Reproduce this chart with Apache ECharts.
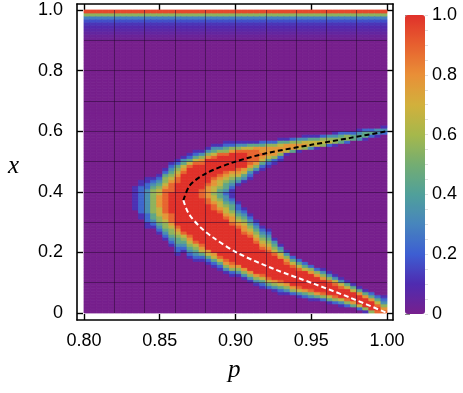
<!DOCTYPE html>
<html>
<head>
<meta charset="utf-8">
<script src="https://cdn.jsdelivr.net/npm/echarts@6/dist/echarts.min.js"></script>
<style>
  html, body { margin: 0; padding: 0; background: #fff; }
  #chart { width: 463px; height: 393px; }
</style>
</head>
<body>
<div id="chart"></div>
<script>
// tick labels
const pTicks = [0.80, 0.85, 0.90, 0.95, 1.00];
const xTicks = [0, 0.2, 0.4, 0.6, 0.8, 1.0];
const colorTicks = [0, 0.2, 0.4, 0.6, 0.8, 1.0];

// heatmap cells: 50 columns in p (0.800 - 1.000, step 0.004), 100 rows in x (step 0.01)
const pStart = 0.8, pStep = 0.004, nCols = 50;
const xStep = 0.01, nRows = 100;

// strip along x = 1, rows 90..99
const topBand = [0.02, 0.03, 0.05, 0.07, 0.09, 0.12, 0.17, 0.28, 0.55, 0.95];

// ridge: [column, first row, levels 0-9 going up in x]
const ridge = [
  [8, 34, "11111111"],
  [9, 31, "1122222222211"],
  [10, 28, "11222333333332211"],
  [11, 28, "12344555555554321"],
  [12, 26, "12345566677776654321"],
  [13, 24, "123455677888888887655421"],
  [14, 22, "1234556788899999998887654321"],
  [15, 19, "1223445678" + "99999999999999" + "88765421"],
  [16, 20, "1234568" + "9999999999999999999" + "876431"],
  [17, 18, "12345678" + "9999999999999999999999" + "86421"],
  [18, 17, "1234568" + "9999999999999999999999999" + "86421"],
  [19, 17, "124678" + "999999999999999" + "888" + "99999999" + "87531"],
  [20, 16, "12467" + "999999999999999" + "8877778" + "99999999" + "7531"],
  [21, 15, "12467" + "99999999999999" + "88766566778" + "999999" + "86431"],
  [22, 14, "12468" + "99999999999999" + "8766544456678" + "999999" + "8531"],
  [23, 13, "13578" + "9999999999999" + "8766543323445678" + "99999" + "85421"],
  [24, 12, "12578" + "999999999999" + "877654432111234567" + "999999" + "7521"],
  [25, 12, "13579" + "9999999999" + "9876543221"], [25, 42, "134678" + "99999" + "8531"],
  [26, 11, "13579" + "9999999999" + "877654321"], [26, 43, "13467999998631"],
  [27, 10, "13579" + "999999999" + "987654321"], [27, 44, "1235788888641"],
  [28, 9, "13579" + "99999999" + "987654321"], [28, 46, "13578888741"],
  [29, 8, "12468" + "9999999" + "987654321"], [29, 47, "1246787742"],
  [30, 8, "24689" + "999999" + "987654321"], [30, 48, "124677752"],
  [31, 7, "13579" + "999999" + "9865431"], [31, 49, "12577752"],
  [32, 6, "124689" + "99999" + "976431"], [32, 50, "12577641"],
  [33, 6, "13579" + "99999" + "87531"], [33, 52, "167741"],
  [34, 6, "2579" + "99999" + "8642"], [34, 53, "47752"],
  [35, 5, "13689" + "9999" + "8642"], [35, 53, "16753"],
  [36, 5, "2479" + "9999" + "9642"], [36, 54, "57631"],
  [37, 4, "13589" + "999" + "9752"], [37, 54, "36641"],
  [38, 4, "1479" + "999" + "9752"], [38, 54, "16641"],
  [39, 4, "2589" + "99" + "97531"], [39, 55, "5652"],
  [40, 3, "1469" + "999" + "8531"], [40, 55, "2653"],
  [41, 3, "2589" + "99" + "8631"], [41, 55, "15531"],
  [42, 2, "1369" + "99" + "8631"], [42, 56, "4542"],
  [43, 2, "2589" + "9" + "9641"], [43, 56, "2552"],
  [44, 2, "479" + "99" + "641"], [44, 57, "442"],
  [45, 1, "269" + "99" + "741"], [45, 57, "3431"],
  [46, 0, "15" + "999" + "741"], [46, 57, "1442"],
  [47, 0, "5999742"], [47, 58, "242"],
  [48, 0, "898642"], [48, 58, "133"],
  [49, 0, "875321"], [49, 59, "231"]
];

// dashed curves, [p, x]
const upperBranch = [[0.8656, 0.372], [0.870, 0.422], [0.881, 0.462], [0.899, 0.498], [0.921, 0.528], [0.950, 0.555], [0.976, 0.578], [1.0, 0.600]];
const lowerBranch = [[0.8656, 0.372], [0.869, 0.329], [0.877, 0.282], [0.885, 0.25], [0.901, 0.199], [0.925, 0.146], [0.952, 0.096], [0.976, 0.050], [1.0, 0.0]];

const cmap = ['#77208d', '#4f2bb0', '#3d5ed2', '#4785bd', '#50a09a', '#74ad72', '#a6b84b', '#d2b03c', '#e98f37', '#e7602f', '#e0312a'];

// build cells: [p of left edge, x of bottom edge, value]
const vals = [];
for (let c = 0; c < nCols; c++) {
  vals.push([]);
  for (let r = 0; r < nRows; r++) vals[c].push(r >= 90 ? topBand[r - 90] : 0);
}
ridge.forEach(([c, r0, s]) => {
  for (let i = 0; i < s.length; i++) vals[c][r0 + i] = +s[i] / 9;
});
const cells = [];
for (let c = 0; c < nCols; c++)
  for (let r = 0; r < nRows; r++) cells.push([pStart + pStep * c, xStep * r, vals[c][r]]);

// frame: heatmap spans 84..387 px (p) and 313..10 px (x); frame is 77..393, 4..320
const pxPerP = 303 / 0.2, pxPerX = 303;
const pMin = 0.8 - 7 / pxPerP, pMax = 1.0 + 6 / pxPerP;
const xMin = -7 / pxPerX, xMax = 1.0 + 6 / pxPerX;

const fmtX = v => (Math.abs(v) < 1e-9 ? '0' : v.toFixed(1));
const font = 'Liberation Sans';
const frameLine = { show: true, onZero: false, lineStyle: { color: '#000', width: 1.6 } };
const tickIn = { show: true, inside: true, length: 6, lineStyle: { color: '#000', width: 1.4 } };
const gridLine = { color: 'rgba(35,5,45,0.5)', width: 1 };

function renderCell(params, api) {
  const a = api.coord([api.value(0), api.value(1) + xStep]);
  const b = api.coord([api.value(0) + pStep, api.value(1)]);
  const color = api.visual('color');
  return {
    type: 'rect',
    shape: { x: a[0], y: a[1], width: b[0] - a[0], height: b[1] - a[1] },
    style: { fill: color, stroke: color, lineWidth: 0.8 }
  };
}

const chart = echarts.init(document.getElementById('chart'));
chart.setOption({
  animation: false,
  backgroundColor: '#fff',
  grid: [
    { left: 77, top: 4, width: 316, height: 316, outerBoundsMode: 'none' },
    { left: 84, top: 10, width: 303, height: 303, outerBoundsMode: 'none' },
    { left: 405, top: 15, width: 20, height: 299, outerBoundsMode: 'none' }
  ],
  xAxis: [
    { gridIndex: 0, type: 'value', min: pMin, max: pMax, position: 'bottom',
      axisLine: frameLine,
      axisTick: Object.assign({ customValues: pTicks }, tickIn),
      axisLabel: { customValues: pTicks, formatter: v => v.toFixed(2), margin: 12,
        fontFamily: font, fontSize: 18, color: '#000' },
      splitLine: { show: false } },
    { gridIndex: 0, type: 'value', min: pMin, max: pMax, position: 'top',
      axisLine: frameLine,
      axisTick: Object.assign({ customValues: pTicks }, tickIn),
      axisLabel: { show: false }, splitLine: { show: false } },
    { gridIndex: 1, type: 'value', min: 0.8, max: 1.0, interval: 0.02, z: 5,
      axisLine: { show: false }, axisTick: { show: false }, axisLabel: { show: false },
      splitLine: { show: true, showMinLine: false, showMaxLine: false, lineStyle: gridLine } },
    { gridIndex: 2, type: 'value', show: false, min: 0, max: 1 }
  ],
  yAxis: [
    { gridIndex: 0, type: 'value', min: xMin, max: xMax, position: 'left',
      axisLine: frameLine,
      axisTick: Object.assign({ customValues: xTicks }, tickIn),
      axisLabel: { customValues: xTicks, formatter: fmtX, margin: 14,
        fontFamily: font, fontSize: 18, color: '#000' },
      splitLine: { show: false } },
    { gridIndex: 0, type: 'value', min: xMin, max: xMax, position: 'right',
      axisLine: frameLine,
      axisTick: Object.assign({ customValues: xTicks }, tickIn),
      axisLabel: { show: false }, splitLine: { show: false } },
    { gridIndex: 1, type: 'value', min: 0, max: 1, interval: 0.1, z: 5,
      axisLine: { show: false }, axisTick: { show: false }, axisLabel: { show: false },
      splitLine: { show: true, showMinLine: false, showMaxLine: false, lineStyle: gridLine } },
    { gridIndex: 2, type: 'value', min: 0, max: 1, interval: 0.2, position: 'right',
      axisLine: { show: false },
      axisTick: { show: true, length: 5, lineStyle: { color: '#888', width: 1 } },
      axisLabel: { customValues: colorTicks, formatter: fmtX, margin: 7,
        fontFamily: font, fontSize: 18, color: '#000' },
      splitLine: { show: false } },
    // faint minor ticks beside the colour bar
    { gridIndex: 2, type: 'value', min: 0, max: 1, interval: 0.05, position: 'right',
      axisLine: { show: false },
      axisTick: { show: true, length: 3, lineStyle: { color: '#ddd', width: 1 } },
      axisLabel: { show: false }, splitLine: { show: false } }
  ],
  visualMap: {
    type: 'continuous', min: 0, max: 1, seriesIndex: 0, dimension: 2,
    calculable: false, orient: 'vertical', left: 405, top: 15, padding: 0,
    itemWidth: 20, itemHeight: 299,
    inRange: { color: cmap }
  },
  graphic: [
    { type: 'text', left: 8, top: 154, style: { text: 'x', font: 'italic 25px "Liberation Serif"', fill: '#000' } },
    { type: 'text', left: 228, top: 358, style: { text: 'p', font: 'italic 25px "Liberation Serif"', fill: '#000' } }
  ],
  series: [
    { type: 'custom', xAxisIndex: 0, yAxisIndex: 0, data: cells, silent: true,
      encode: { x: 0, y: 1 }, renderItem: renderCell, z: 2 },
    { type: 'line', xAxisIndex: 0, yAxisIndex: 0, data: upperBranch, smooth: 0.3,
      showSymbol: false, z: 6, lineStyle: { color: '#000', width: 2, type: [5, 3] } },
    { type: 'line', xAxisIndex: 0, yAxisIndex: 0, data: lowerBranch, smooth: 0.3,
      showSymbol: false, z: 6, lineStyle: { color: '#fff', width: 2, type: [5, 3] } }
  ]
});
</script>
</body>
</html>
